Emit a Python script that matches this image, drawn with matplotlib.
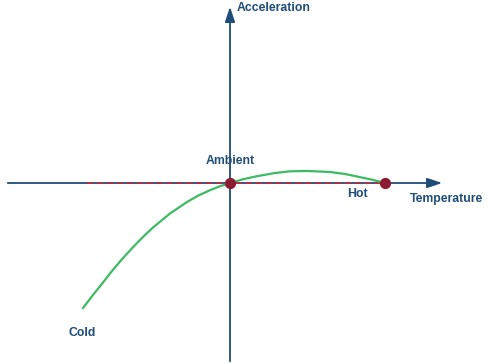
import numpy as np
import matplotlib.pyplot as plt

# curva de aceleracion vs temperatura (origen = ambiente)
temp = [-147, -137, -127, -118, -110, -101, -93, -85, -77, -60, -43, -32, -20, -10, 0,
        14, 28, 45, 60, 78, 100, 115, 128, 142, 155]
acel = [-125, -112, -99.5, -88, -78.5, -68.5, -60, -52, -44.5, -30.5, -19, -12.7, -7.2, -3.2, 0,
        4, 7, 10, 11.7, 12, 11, 9, 6.3, 3.3, 0]

puntos_x = [0, 155]  # ambient, hot
puntos_y = [0, 0]

azul = "#1f4d7a"
verde = "#3dbb63"
rojo = "#8c1a30"

fig = plt.figure(figsize=(4.93, 3.64), dpi=100)
ax = fig.add_axes([0, 0, 1, 1])
ax.set_xlim(-230, 263)
ax.set_ylim(-181, 183)
ax.axis("off")

# ejes con flechas
ax.annotate("", xy=(215, 0), xytext=(-225, 0),
            arrowprops=dict(arrowstyle="-|>,head_length=0.9,head_width=0.3", color=azul, lw=1.3))
ax.annotate("", xy=(0, 179), xytext=(0, -181),
            arrowprops=dict(arrowstyle="-|>,head_length=0.9,head_width=0.3", color=azul, lw=1.3))

# linea discontinua roja
ax.plot([-143, 155], [0, 0], color="#b0304a", lw=1.4, ls=(0, (3.3, 1.8)), zorder=3)

ax.plot(temp, acel, color=verde, lw=1.6, zorder=4, solid_joinstyle="round")
ax.scatter(puntos_x, puntos_y, s=50, color=rojo, zorder=5)

fuente = dict(color=azul, fontsize=8.8, fontweight="bold", family="Liberation Sans")
ax.text(7, 175, "Acceleration", ha="left", va="center", **fuente)
ax.text(0, 22, "Ambient", ha="center", va="center", **fuente)
ax.text(127, -11, "Hot", ha="center", va="center", **fuente)
ax.text(180, -16, "Temperature", ha="left", va="center", **fuente)
ax.text(-148, -150, "Cold", ha="center", va="center", **fuente)

fig.savefig("out.png", dpi=100)
